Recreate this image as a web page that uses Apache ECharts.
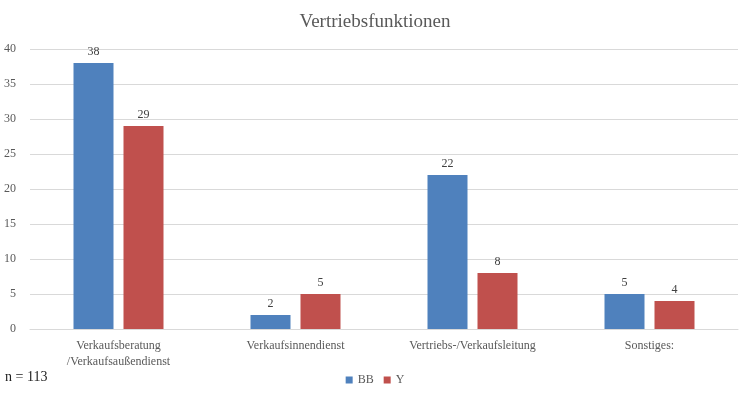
<!DOCTYPE html>
<html><head><meta charset="utf-8">
<script src="https://cdn.jsdelivr.net/npm/echarts@6/dist/echarts.min.js"></script>
<style>html,body{margin:0;padding:0;background:#fff}#c{width:750px;height:395px}</style>
</head><body><div id="c"></div>
<script>
const categories = ['Verkaufsberatung\n/Verkaufsaußendienst', 'Verkaufsinnendienst', 'Vertriebs-/Verkaufsleitung', 'Sonstiges:'];
const seriesBB = [38, 2, 22, 5];
const seriesY = [29, 5, 8, 4];
const yTicks = {min: 0, max: 40, interval: 5};
const font = 'Liberation Serif';
const chart = echarts.init(document.getElementById('c'));
chart.setOption({
  animation: false,
  title: {text: 'Vertriebsfunktionen', left: 'center', top: 8, textStyle: {fontFamily: font, fontSize: 19, fontWeight: 'normal', color: '#595959'}},
  graphic: [{type: 'text', left: 5, top: 370, style: {text: 'n = 113', font: '14px "Liberation Serif"', fill: '#222'}}],
  legend: {bottom: 4, left: 'center', itemWidth: 7, itemHeight: 7, itemGap: 10, icon: 'rect', textStyle: {fontFamily: font, fontSize: 12, color: '#595959'}, data: ['BB', 'Y']},
  grid: {left: 30, right: 12, top: 49, bottom: 66},
  xAxis: {type: 'category', data: categories, axisTick: {show: false}, axisLine: {lineStyle: {color: '#d9d9d9'}},
    axisLabel: {fontFamily: font, fontSize: 12, color: '#595959', margin: 9, lineHeight: 16, interval: 0}},
  yAxis: {type: 'value', min: yTicks.min, max: yTicks.max, interval: yTicks.interval, axisLine: {show: false}, axisTick: {show: false},
    splitLine: {lineStyle: {color: '#d9d9d9'}}, axisLabel: {fontFamily: font, fontSize: 12, color: '#595959', margin: 14}},
  series: [
    {name: 'BB', type: 'bar', data: seriesBB, barWidth: 40, barGap: '25%', itemStyle: {color: '#4f81bd'},
      label: {show: true, position: 'top', fontFamily: font, fontSize: 12, color: '#404040'}},
    {name: 'Y', type: 'bar', data: seriesY, barWidth: 40, itemStyle: {color: '#c0504d'},
      label: {show: true, position: 'top', fontFamily: font, fontSize: 12, color: '#404040'}}
  ]
});
</script></body></html>
